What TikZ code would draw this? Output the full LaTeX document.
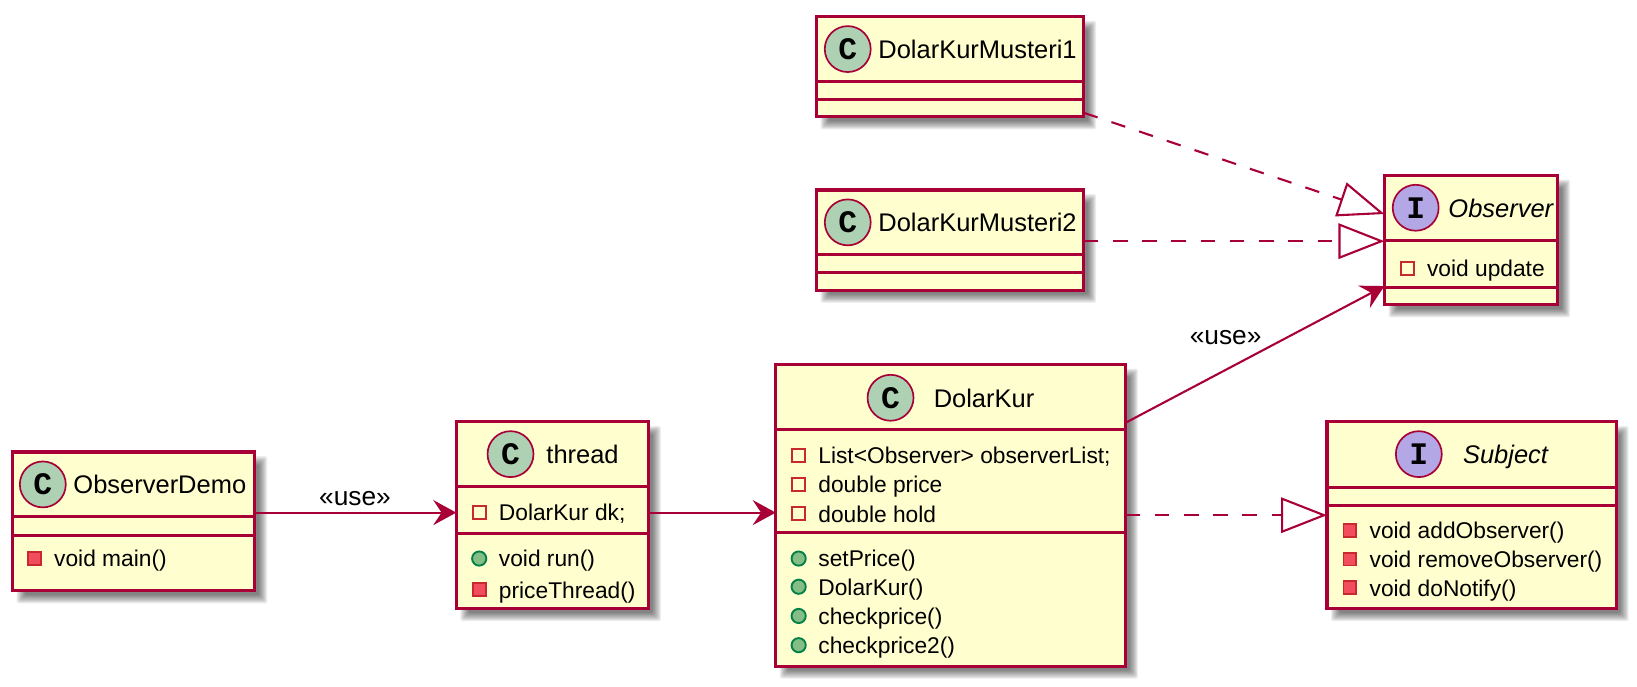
\documentclass[tikz,border=0pt]{standalone}
\usepackage{fontspec}
\setmainfont{Liberation Sans}
\newfontfamily\glyphfont{Liberation Mono}
\usetikzlibrary{arrows.meta,calc}
\definecolor{umlline}{HTML}{A80036}
\definecolor{umlfill}{HTML}{FEFECE}
\definecolor{spotc}{HTML}{ADD1B2}
\definecolor{spoti}{HTML}{B4A7E5}
\definecolor{privline}{HTML}{C82930}
\definecolor{privfill}{HTML}{F24D5C}
\definecolor{publine}{HTML}{038048}
\definecolor{pubfill}{HTML}{84BE84}
\tikzset{
  umlbox/.style={draw=umlline,fill=umlfill,line width=1.5pt,inner sep=0pt,outer sep=0pt},
  sepline/.style={draw=umlline,line width=1.5pt},
  spot/.style={circle,draw=umlline,line width=.8pt,minimum size=22pt,inner sep=0pt,font=\glyphfont\bfseries\fontsize{15}{15}\selectfont},
  titletext/.style={anchor=base west,inner sep=0pt,font=\fontsize{12.2}{14}\selectfont},
  membertext/.style={anchor=base west,inner sep=0pt,font=\fontsize{10.9}{12}\selectfont},
  labeltext/.style={inner sep=0pt,font=\fontsize{12.6}{14}\selectfont},
  privfield/.style={rectangle,draw=privline,line width=.9pt,minimum size=6.2pt,inner sep=0pt},
  privmethod/.style={rectangle,draw=privline,fill=privfill,line width=.9pt,minimum size=6.2pt,inner sep=0pt},
  pubmethod/.style={circle,draw=publine,fill=pubfill,line width=.9pt,minimum size=6.8pt,inner sep=0pt},
  usearrow/.style={draw=umlline,line width=1pt,-{Stealth[length=11pt,width=12pt,inset=4pt]}},
  realize/.style={draw=umlline,line width=1pt,dash pattern=on 7pt off 7pt,-{Triangle[open,length=22pt,width=17pt,fill=white]}},
}
% name, x0, y0, x1, y1, sep1, sep2
\newcommand{\umlclass}[7]{%
  \foreach \k in {12,11,10,9,8,7,6,5,4}{%
    \fill[black,opacity=.07,rounded corners=1pt] (#2+16-\k,#3+16-\k) rectangle (#4+\k,#5+\k);}
  \node[umlbox,minimum width={(#4-#2)*.5pt},minimum height={(#5-#3)*.5pt}] (#1) at ({(#2+#4)/2},{(#3+#5)/2}) {};
  \draw[sepline] (#1.west |- 0,#6) -- (#1.east |- 0,#6);
  \draw[sepline] (#1.west |- 0,#7) -- (#1.east |- 0,#7);
}
% name, x, rowy, mark style, text
\newcommand{\umlmember}[5]{%
  \node[#4] (#1m) at (#2,#3) {};
  \node[membertext] (#1t) at (#2+18.5,#3+8) {#5};
}
\begin{document}
\begin{tikzpicture}[x=.5pt,y=-.5pt]
\useasboundingbox (0,0) rectangle (1568,658);

% ObserverDemo
\umlclass{demo}{12}{433}{244}{566}{495}{513}
\node[spot,fill=spotc] (demos) at (41,464) {C};
\node[titletext] (demot) at (70,473) {ObserverDemo};
\umlmember{demoa}{33}{535}{privmethod}{void main()}

% thread
\umlclass{thr}{437}{404}{621}{583}{466}{511}
\node[spot,fill=spotc] (thrs) at (489,435) {C};
\node[titletext] (thrt) at (523,444) {thread};
\umlmember{thra}{459}{491}{privfield}{DolarKur dk;}
\umlmember{thrb}{459}{535}{pubmethod}{void run()}
\umlmember{thrc}{459}{565}{privmethod}{priceThread()}

% DolarKur
\umlclass{kur}{743}{349}{1078}{638}{411}{510}
\node[spot,fill=spotc] (kurs) at (853,381) {C};
\node[titletext] (kurt) at (894,390) {DolarKur};
\umlmember{kura}{765}{436}{privfield}{List<Observer> observerList;}
\umlmember{kurb}{765}{464}{privfield}{double price}
\umlmember{kurc}{765}{492}{privfield}{double hold}
\umlmember{kurd}{765}{535}{pubmethod}{setPrice()}
\umlmember{kure}{765}{562}{pubmethod}{DolarKur()}
\umlmember{kurf}{765}{590}{pubmethod}{checkprice()}
\umlmember{kurg}{765}{618}{pubmethod}{checkprice2()}

% DolarKurMusteri1
\umlclass{mone}{782}{16}{1038}{112}{78}{95}
\node[spot,fill=spotc] (mones) at (812,47) {C};
\node[titletext] (monet) at (841,56) {DolarKurMusteri1};

% DolarKurMusteri2
\umlclass{mtwo}{782}{182}{1038}{278}{244}{261}
\node[spot,fill=spotc] (mtwos) at (812,213) {C};
\node[titletext] (mtwot) at (841,222) {DolarKurMusteri2};

% Observer
\umlclass{obs}{1326}{168}{1492}{292}{230}{275}
\node[spot,fill=spoti] (obss) at (1356,199) {I};
\node[titletext,font=\itshape\fontsize{12.2}{14}\selectfont] (obst) at (1387,208) {Observer};
\umlmember{obsa}{1348}{257}{privfield}{void update}

% Subject
\umlclass{sub}{1271}{404}{1548}{583}{467}{484}
\node[spot,fill=spoti] (subs) at (1359,435) {I};
\node[titletext,font=\itshape\fontsize{12.2}{14}\selectfont] (subt) at (1401,444) {Subject};
\umlmember{suba}{1293}{508}{privmethod}{void addObserver()}
\umlmember{subb}{1293}{535.5}{privmethod}{void removeObserver()}
\umlmember{subc}{1293}{563}{privmethod}{void doNotify()}

% connectors
\draw[usearrow] ([yshift=4.25pt]demo.east) -- ([yshift=1.25pt]thr.west);
\draw[usearrow] ([yshift=1.25pt]thr.east) -- ([yshift=1.25pt]kur.west);
\draw[usearrow] ([yshift=44.25pt]kur.east) -- ([yshift=-22pt]obs.west);
\draw[realize] (kur.east) -- (sub.west);
\draw[realize] ([yshift=-22pt]mone.east) -- ([yshift=12.5pt]obs.west);
\draw[realize] ([yshift=-.5pt]mtwo.east) -- ([yshift=-.5pt]obs.west);

\node[labeltext] (usea) at (340,478) {«use»};
\node[labeltext] (useb) at (1174,323) {«use»};
\end{tikzpicture}
\end{document}
